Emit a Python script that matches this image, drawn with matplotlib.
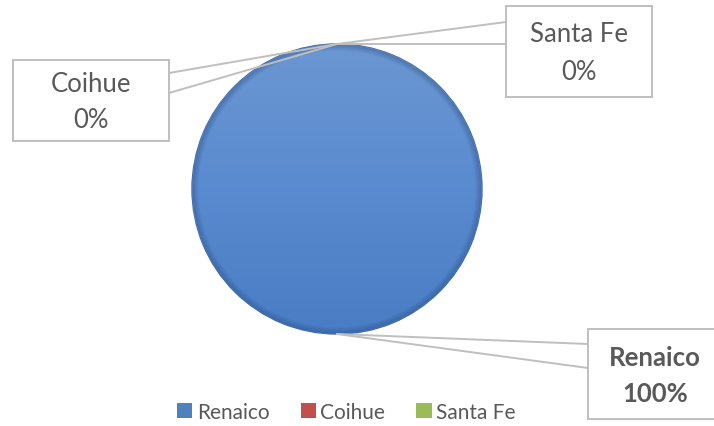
import numpy as np
import matplotlib
matplotlib.use("Agg")
import matplotlib.pyplot as plt
from matplotlib.patches import Rectangle, Patch, Circle
from matplotlib.colors import LinearSegmentedColormap

# data
categories = ["Renaico", "Coihue", "Santa Fe"]
values = [100, 0, 0]
colors = ["#4F81BD", "#C0504D", "#9BBB59"]
pct_labels = ["100%", "0%", "0%"]

W, H = 714, 427
def sy(y):  # screen y (from top) -> data y
    return H - y

fig = plt.figure(figsize=(W / 100, H / 100), dpi=100)
ax = fig.add_axes([0, 0, 1, 1])

cx, cy, r = 337, sy(190), 145
wedges, _ = ax.pie(values, colors=colors, startangle=90, center=(cx, cy),
                   radius=r, wedgeprops=dict(edgecolor="#3F659B", linewidth=1.0))

# gradient fill clipped to the big wedge
grad = np.linspace(0, 1, 256).reshape(-1, 1)
cmap = LinearSegmentedColormap.from_list("b", ["#497DC4", "#5A8ACF", "#6B97D2"])
im = ax.imshow(grad, extent=[cx - r, cx + r, cy - r, cy + r], origin="lower",
               cmap=cmap, aspect="auto", zorder=1.5)
im.set_clip_path(wedges[0])

# soft darker rim
for k in range(6):
    ring = Circle((cx, cy), r - 0.8 - k, fill=False, lw=1.2,
                  edgecolor="#1F3F70", alpha=0.22 * (1 - k / 6), zorder=1.6)
    ax.add_patch(ring)
    ring.set_clip_path(wedges[0])

ax.set_xlim(0, W)
ax.set_ylim(0, H)
ax.set_aspect("equal")
ax.axis("off")

# anchor points computed from wedge angles
total = sum(values)
start = 90.0
anchors = []
for v in values:
    span = 360.0 * v / total
    mid = np.deg2rad(start + span / 2)
    anchors.append((cx + r * np.cos(mid), cy + r * np.sin(mid)))
    start += span

line_kw = dict(color="#BFBFBF", lw=1.4, zorder=3)
box_kw = dict(facecolor="white", edgecolor="#BFBFBF", lw=1.4, zorder=4)
txt_color = "#595959"

# label boxes: (left, top, right, bottom) in screen px, and leader attach y's
boxes = {
    "Renaico": ((588, 330, 724, 420), (588, [345, 369])),
    "Coihue": ((13, 61, 169, 142), (169, [74, 94])),
    "Santa Fe": ((506, 7, 652, 98), (506, [23, 45])),
}

for i, name in enumerate(categories):
    (l, t, rr, b), (ax_x, ys) = boxes[name]
    axx, ayy = anchors[i]
    for yy in ys:
        ax.plot([axx, ax_x], [ayy, sy(yy)], **line_kw)
    ax.add_patch(Rectangle((l, sy(b)), rr - l, b - t, **box_kw))
    bold = name == "Renaico"
    ax.text((l + rr) / 2 if not bold else 655, sy((t + b) / 2 + 1),
            f"{name}\n{pct_labels[i]}", ha="center", va="center",
            fontsize=18.5, color=txt_color, family="Lato",
            fontweight="bold" if bold else "normal",
            linespacing=1.6, zorder=5)

handles = [Patch(facecolor=c, edgecolor="none") for c in colors]
fig.legend(handles, categories, loc="center", bbox_to_anchor=(0.485, 1 - 413 / H),
           ncol=3, frameon=False, handlelength=0.75, handleheight=0.75,
           handletextpad=0.2, columnspacing=1.5,
           prop=dict(family="Lato", size=15), labelcolor=txt_color)

fig.savefig("out.png", dpi=100)
